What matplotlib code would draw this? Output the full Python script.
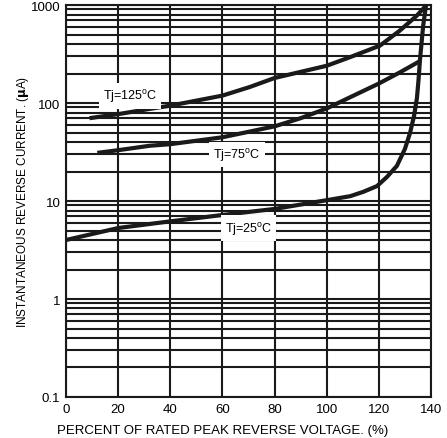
import matplotlib.pyplot as plt

plt.rcParams['font.family'] = ['Liberation Sans', 'DejaVu Sans']

# --- Curve data ---
x125 = [9, 20, 32, 40, 60, 70.6, 80, 100, 109, 120.4, 128, 134.5, 138.3]
y125 = [70, 77, 87, 94, 119, 146, 180, 240, 294, 385, 547, 776, 1000]

x75 = [12, 20, 32, 40, 60, 80, 90, 100, 110, 120, 128, 135.8]
y75 = [31, 33, 36.6, 38, 44.7, 57.8, 70, 88, 118, 158, 205, 268]

x25 = [0, 20, 40, 60, 80, 101, 109, 114, 119.3, 123.1, 126.9, 130, 132, 133.5,
       134.6, 135.2, 135.8, 137, 138.1]
y25 = [4.0, 5.3, 6.2, 7.2, 8.3, 10.3, 11.2, 12.4, 14.2, 17.6, 22.8, 34, 50, 74,
       112, 170, 281, 615, 1000]

xticks = [0, 20, 40, 60, 80, 100, 120, 140]
yticks = [0.1, 1, 10, 100, 1000]
yticklabels = ['0.1', '1', '10', '100', '1000']

fig = plt.figure(figsize=(4.47, 4.39), dpi=100)
ax = fig.add_axes([0.1477, 0.0934, 0.8165, 0.8929])

ax.set_yscale('log')
ax.set_xlim(0, 140)
ax.set_ylim(0.1, 1000)

# --- Grid ---
ax.set_xticks(xticks)
ax.set_yticks(yticks)
ax.set_yticklabels(yticklabels)
ax.grid(True, which='major', axis='both', color='#1a1a1a', linewidth=1.5)
ax.grid(True, which='minor', axis='y', color='#1a1a1a', linewidth=1.5)
ax.tick_params(which='both', length=0, labelsize=9.5, pad=4)
for s in ax.spines.values():
    s.set_linewidth(1.5)
    s.set_color('#1a1a1a')

# --- Curves ---
ax.plot(x125, y125, color='#1a1a1a', linewidth=3, solid_capstyle='butt')
ax.plot(x75, y75, color='#1a1a1a', linewidth=3, solid_capstyle='butt')
ax.plot(x25, y25, color='#1a1a1a', linewidth=3, solid_capstyle='butt')

box = dict(facecolor='white', edgecolor='none', pad=3)
ax.text(24.5, 118, 'Tj=125$^\\mathregular{o}$C', fontsize=9, ha='center', va='center', bbox=box)
ax.text(65.5, 30, 'Tj=75$^\\mathregular{o}$C', fontsize=9, ha='center', va='center', bbox=box)
ax.text(70, 5.3, 'Tj=25$^\\mathregular{o}$C', fontsize=9, ha='center', va='center', bbox=box)

ax.set_xlabel('PERCENT OF RATED PEAK REVERSE VOLTAGE. (%)', fontsize=9.5, labelpad=5)
ax.xaxis.set_label_coords(0.43, -0.068)
ax.set_ylabel('INSTANTANEOUS REVERSE CURRENT. ($\\mathbf{\\mu}$A)', fontsize=8.5, labelpad=0)

plt.savefig('out.png', dpi=100)
